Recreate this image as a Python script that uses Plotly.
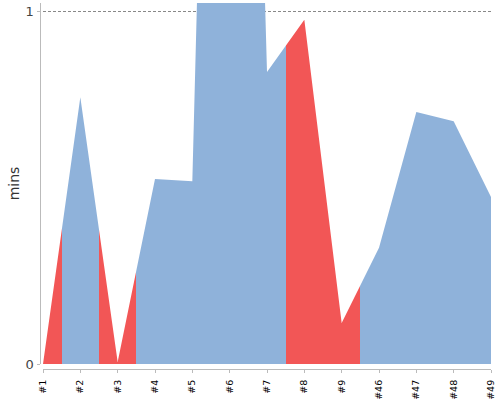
import plotly.graph_objects as go

categories = ["#1", "#2", "#3", "#4", "#5", "#6", "#7", "#8", "#9", "#46", "#47", "#48", "#49"]
values = [0.0, 0.756, 0.006, 0.524, 0.518, 4.6, 0.827, 0.975, 0.116, 0.329, 0.714, 0.688, 0.473]
flags = ["red", "blue", "red", "blue", "blue", "blue", "blue", "red", "red", "blue", "blue", "blue", "blue"]

COL = {"red": "#f25656", "blue": "#8fb2da"}

n = len(categories)
idx = list(range(n))
span = n - 1

# hard-stop horizontal colorscale: each category colours half-way to its neighbours
cs = []
for i, f in enumerate(flags):
    a = max(0.0, (i - 0.5) / span)
    b = min(1.0, (i + 0.5) / span)
    cs.append([a, COL[f]])
    cs.append([b, COL[f]])

fig = go.Figure()
fig.add_trace(go.Scatter(
    x=idx, y=values, mode="lines", line=dict(width=0),
    fill="tozeroy",
    fillgradient=dict(type="horizontal", start=0, stop=span, colorscale=cs),
    hoverinfo="skip", showlegend=False,
))

W, H = 500, 400
fig.update_layout(
    width=W, height=H,
    margin=dict(l=0, r=0, t=0, b=0, autoexpand=False),
    paper_bgcolor="white", plot_bgcolor="white",
    font=dict(family="DejaVu Sans", color="#444"),
    xaxis=dict(
        domain=[43 / W, 491 / W], range=[0, span],
        tickvals=idx, ticktext=categories, tickangle=-90,
        tickfont=dict(size=9.5, color="black"),
        ticklabelstandoff=3,
        showline=True, linecolor="#bbb", linewidth=1,
        ticks="outside", ticklen=3, tickcolor="#bbb",
        showgrid=False, zeroline=False,
        anchor="free", position=1 - 369 / H,
        automargin=False,
    ),
    yaxis=dict(
        domain=[1 - 364 / H, 1 - 3 / H], range=[0, (364 - 3) / 353],
        tickvals=[0, 1], ticktext=["0", "1"],
        tickfont=dict(size=13, color="#444"),
        showline=True, linecolor="#bbb", linewidth=1,
        ticks="outside", ticklen=3, tickcolor="#bbb",
        showgrid=True, gridcolor="#888", griddash="3px,2px", gridwidth=1,
        zeroline=False,
        anchor="free", position=39.5 / W,
        title=dict(text="mins", font=dict(size=14, color="#333"), standoff=1),
        automargin=False,
    ),
)

fig.write_html("out.html")
